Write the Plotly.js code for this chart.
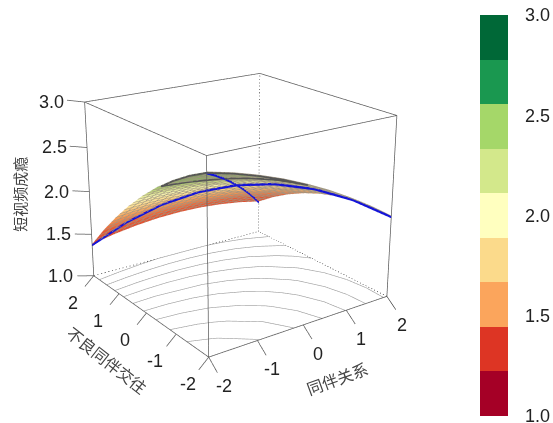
<!DOCTYPE html>
<html>
<head>
<meta charset="utf-8">
<script src="https://cdn.plot.ly/plotly-3.0.1.min.js"></script>
<style>
html,body{margin:0;padding:0;width:553px;height:423px;overflow:hidden;background:#fff}
#wrap{position:absolute;left:0;top:0;width:553px;height:423px;overflow:hidden}
#g{position:absolute;left:-186px;top:-223px;width:846px;height:846px}
</style>
</head>
<body>
<div id="wrap"><div id="g"></div></div>
<script>
const peerRelation = [-2,-1.5,-1,-0.5,0,0.5,1,1.5,2];
const badPeer = [-2,-1.5,-1,-0.5,0,0.5,1,1.5,2];
const addiction = [
 [2.850,2.787,2.708,2.615,2.506,2.383,2.244,2.091,1.922],
 [2.742,2.693,2.630,2.551,2.457,2.349,2.225,2.086,1.932],
 [2.612,2.578,2.529,2.465,2.386,2.292,2.183,2.059,1.920],
 [2.461,2.442,2.408,2.358,2.294,2.214,2.121,2.012,1.887],
 [2.288,2.284,2.264,2.230,2.180,2.116,2.036,1.942,1.832],
 [2.094,2.104,2.100,2.080,2.045,1.995,1.931,1.851,1.756],
 [1.878,1.903,1.913,1.908,1.888,1.853,1.803,1.738,1.658],
 [1.641,1.681,1.706,1.715,1.710,1.690,1.655,1.605,1.539],
 [1.382,1.437,1.476,1.501,1.510,1.505,1.484,1.449,1.398]
];
const floorLevels = [1.5,1.65,1.8,1.95,2.1,2.25,2.4,2.55,2.7];
const loopLevel = 2.5;
const zTicks = [1,1.5,2,2.5,3];
const xyTicks = [-2,-1,0,1,2];
const bandColors = ["#A50026","#DD3524","#FBA55C","#FBDA8B","#FFFFBF","#D3E88B","#A5D769","#1A9850","#006837"];
const surfaceScale = [[0,"#C8352A"],[0.3,"#E65A35"],[0.42,"#F49A56"],[0.52,"#FBD98E"],[0.6,"#F5F3B0"],[0.65,"#D5E08C"],[0.75,"#93B864"],[0.9,"#5C8A48"],[1,"#3F7A40"]];

const SIZE = 846, LEFT = 186, TOP = 223;
const FONT = 'Liberation Sans, Arial, sans-serif';
const CJK = '"Noto Sans CJK SC", sans-serif';
const zLow = 1, zHigh = 3, lo = -2, hi = 2;

const colorscale = [];
bandColors.forEach((c,i)=>{colorscale.push([i/9,c]);colorscale.push([(i+1)/9,c]);});

function contourPts(level){
  const pts=[];
  const n=peerRelation.length;
  for(let j=0;j<n;j++)for(let i=0;i<n;i++){
    const a=addiction[j][i];
    if(i<n-1){const b=addiction[j][i+1];
      if((a-level)*(b-level)<0){const t=(level-a)/(b-a);pts.push([peerRelation[i]+t*(peerRelation[i+1]-peerRelation[i]),badPeer[j],level]);}}
    if(j<n-1){const b=addiction[j+1][i];
      if((a-level)*(b-level)<0){const t=(level-a)/(b-a);pts.push([peerRelation[i],badPeer[j]+t*(badPeer[j+1]-badPeer[j]),level]);}}
  }
  pts.sort((p,q)=>Math.atan2(p[1]-lo,p[0]-lo)-Math.atan2(q[1]-lo,q[0]-lo));
  return pts;
}
function line3(xs,ys,zs,color,width,dash){
  return {type:'scatter3d',mode:'lines',x:xs,y:ys,z:zs,hoverinfo:'skip',showlegend:false,
    line:{color:color,width:width,dash:dash||'solid'}};
}
// WebGL here draws 1px lines, so a heavy line is stacked from close copies
function heavy(xs,ys,zs,color,offsets){
  offsets.forEach(o=>traces.push(line3(xs,ys,zs.map(v=>v+o),color,2)));
}
const GREY='#5c5c5c';
const traces=[];
traces.push({type:'surface',x:peerRelation,y:badPeer,z:addiction,cmin:1,cmax:3,colorscale:surfaceScale,
  hoverinfo:'skip',showscale:false,
  lighting:{ambient:1,diffuse:0,specular:0,roughness:1,fresnel:0},
  contours:{
    x:{show:true,start:-2,end:2,size:0.1667,color:'rgba(70,60,40,0.65)',width:1},
    y:{show:true,start:-2,end:2,size:0.1667,color:'rgba(70,60,40,0.65)',width:1},
    z:{show:false}
  }
});
traces.push({type:'scatter3d',mode:'markers',x:[0,0],y:[0,0],z:[1,3],hoverinfo:'skip',showlegend:false,opacity:0,
  marker:{size:1,color:[1,3],cmin:1,cmax:3,colorscale:colorscale,showscale:true,opacity:0,
  colorbar:{x:(480+LEFT)/SIZE,xanchor:'left',y:1-(15+TOP)/SIZE,yanchor:'top',thickness:28,thicknessmode:'pixels',
    len:401,lenmode:'pixels',xpad:0,ypad:0,outlinewidth:0,borderwidth:0,
    tickvals:zTicks,ticktext:zTicks.map(v=>v.toFixed(1)),ticks:'outside',ticklen:14,tickcolor:'rgba(0,0,0,0)',
    tickfont:{family:FONT,size:18,color:'#222'}}}
});
const solid=[
 [[lo,hi],[lo,lo],[zLow,zLow]],[[lo,lo],[lo,hi],[zLow,zLow]],
 [[lo,lo],[lo,lo],[zLow,zHigh]],[[hi,hi],[lo,lo],[zLow,zHigh]],[[lo,lo],[hi,hi],[zLow,zHigh]],
 [[lo,hi],[lo,lo],[zHigh,zHigh]],[[lo,lo],[lo,hi],[zHigh,zHigh]],
 [[lo,hi],[hi,hi],[zHigh,zHigh]],[[hi,hi],[lo,hi],[zHigh,zHigh]]
];
solid.forEach(s=>traces.push(line3(s[0],s[1],s[2],GREY,1.5)));
const dashed=[
 [[lo,hi],[hi,hi],[zLow,zLow]],[[hi,hi],[lo,hi],[zLow,zLow]],[[hi,hi],[hi,hi],[zLow,zHigh]]
];
dashed.forEach(s=>traces.push(line3(s[0],s[1],s[2],'#333',1.2,'dash')));
xyTicks.forEach(v=>{
  traces.push(line3([v,v],[lo,lo-0.25],[zLow,zLow-0.1],GREY,1.5));
  traces.push(line3([lo,lo-0.2],[v,v],[zLow,zLow-0.1],GREY,1.5));
});
zTicks.forEach(v=>traces.push(line3([lo,lo-0.35],[hi,hi],[v,v+0.05],GREY,1.5)));
floorLevels.forEach(l=>{
  const p=contourPts(l);
  traces.push(line3(p.map(a=>a[0]),p.map(a=>a[1]),p.map(()=>zLow),'#999',1.2));
});
(function(){
  const p=contourPts(loopLevel);
  const xs=p.map(a=>a[0]),ys=p.map(a=>a[1]),zs=p.map(a=>a[2]);
  const edgeX=[],edgeZ=[];
  peerRelation.forEach((x,i)=>{ if(addiction[0][i]>loopLevel){edgeX.push(x);edgeZ.push(addiction[0][i]);} });
  const sideY=[],sideZ=[];
  badPeer.forEach((y,j)=>{ if(j>0&&addiction[j][0]>loopLevel){sideY.push(y);sideZ.push(addiction[j][0]);} });
  heavy(
    xs.concat(sideY.map(()=>lo).reverse(),edgeX,[xs[0]]),
    ys.concat(sideY.slice().reverse(),edgeX.map(()=>lo),[ys[0]]),
    zs.concat(sideZ.slice().reverse(),edgeZ,[zs[0]]),'#555',[-0.006,-0.014]);
})();
const n=peerRelation.length;
const thick=[-0.02,-0.012,-0.004];
heavy(peerRelation,badPeer,peerRelation.map((_,i)=>addiction[i][i]),'#1414d8',thick);
heavy(peerRelation,badPeer.slice().reverse(),peerRelation.map((_,i)=>addiction[n-1-i][i]),'#1414d8',thick);

const annotations=[];
function ann(x,y,z,text,xs,ys,font,angle){
  annotations.push({x:x,y:y,z:z,text:text,showarrow:false,xshift:xs,yshift:ys,font:font,textangle:angle||0,xanchor:'center',yanchor:'middle'});
}
const tf={family:FONT,size:18,color:'#222'};
xyTicks.forEach(v=>{
  ann(v,lo,zLow,String(v),15,-29,tf);
  ann(lo,v,zLow,String(v),-21,-27,tf);
});
zTicks.forEach(v=>ann(lo,hi,v,v.toFixed(1),-33,0,tf));
const cf={family:CJK,size:16,color:'#444'};
ann(0,lo,zLow,'同伴关系',34,-53,cf,-20);
ann(lo,0,zLow,'不良同伴交往',-39,-47,cf,38);
ann(lo,hi,2,'短视频成瘾',-70,-3,{family:CJK,size:15,color:'#444'},-90);

const axisBase={visible:false,showgrid:false,zeroline:false,showspikes:false,showbackground:false,showline:false,showticklabels:false,autorange:false};
const layout={
  width:SIZE,height:SIZE,margin:{l:0,r:0,t:0,b:0},paper_bgcolor:'#fff',plot_bgcolor:'#fff',showlegend:false,
  scene:{
    domain:{x:[0,1],y:[0,1]},
    xaxis:Object.assign({},axisBase,{range:[-2.5,2.5]}),
    yaxis:Object.assign({},axisBase,{range:[-2.5,2.5]}),
    zaxis:Object.assign({},axisBase,{range:[0.75,3.25]}),
    aspectmode:'manual',aspectratio:{x:1.38,y:1.38,z:1.20},
    camera:{eye:{x:-2.84,y:-3.98,z:1.78},center:{x:0,y:0,z:0},up:{x:0,y:0,z:1},projection:{type:'perspective'}},
    annotations:annotations
  }
};
Plotly.newPlot('g',traces,layout,{displayModeBar:false,responsive:false});
</script>
</body>
</html>
